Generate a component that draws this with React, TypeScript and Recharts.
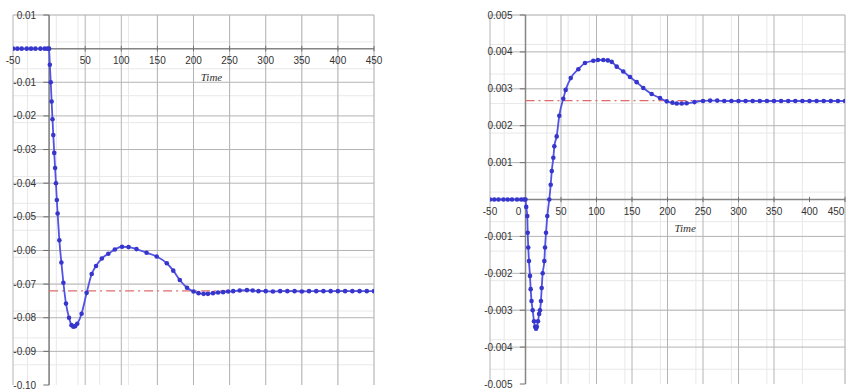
import React from 'react';
import { LineChart, Line, XAxis, YAxis, CartesianGrid, ReferenceLine, ReferenceDot } from 'recharts';

// ---------- data: left panel ----------
const leftTime = [
  -50, -44, -38, -31, -25, -19, -12, -6, -2, 0,
  1, 2.3, 3.5, 4.7, 5.8, 7.1, 8.3, 9.5, 10.7, 11.8,
  14.2, 17, 19.8, 23.4, 27.6, 31, 33.6, 36, 39, 45,
  52, 59, 65, 73, 82, 91, 101, 110, 121, 135,
  149, 163, 172, 181, 191, 200, 207, 214, 220, 227,
  234, 241, 248, 255, 264, 274, 282, 290, 300, 310,
  320, 330, 340, 350, 360, 370, 380, 390, 400, 410,
  420, 430, 440, 450,
];
const leftValue = [
  0, 0, 0, 0, 0, 0, 0, 0, 0, 0,
  -0.0048, -0.010, -0.0157, -0.021, -0.0257, -0.031, -0.0355, -0.040, -0.045, -0.049,
  -0.057, -0.0636, -0.0696, -0.0758, -0.080, -0.0822, -0.0827, -0.0825, -0.0818, -0.0788,
  -0.0726, -0.0670, -0.0646, -0.0624, -0.0610, -0.0597, -0.0589, -0.0590, -0.0596, -0.0607,
  -0.0618, -0.0638, -0.0660, -0.0688, -0.0711, -0.0722, -0.0727, -0.0729, -0.0729, -0.0727,
  -0.0725, -0.0724, -0.0722, -0.0721, -0.0719, -0.0718, -0.0719, -0.0721, -0.0721, -0.0722,
  -0.0721, -0.0721, -0.0721, -0.0722, -0.0721, -0.0721, -0.0721, -0.0721, -0.0721, -0.0721,
  -0.0721, -0.0721, -0.0721, -0.0721,
];
const leftSteady = -0.072;
const leftXTickValues = [-50, 50, 100, 150, 200, 250, 300, 350, 400, 450];
const leftXTickLabels = ['-50', '50', '100', '150', '200', '250', '300', '350', '400', '450'];
const leftYTickValues = [0.01, -0.01, -0.02, -0.03, -0.04, -0.05, -0.06, -0.07, -0.08, -0.09, -0.10];
const leftYTickLabels = ['0.01', '-0.01', '-0.02', '-0.03', '-0.04', '-0.05', '-0.06', '-0.07', '-0.08', '-0.09', '-0.10'];

// ---------- data: right panel ----------
const rightTime = [
  -50, -44, -38, -31, -25, -19, -12, -6, -2, 0,
  1, 2.5, 3.1, 3.9, 4.9, 6.3, 7.3, 8.5, 10.1, 12,
  13.6, 14.8, 16, 17.6, 19.2, 20.4, 21.8, 22.8, 24.2, 26.5,
  27.5, 28.9, 30.7, 33.5, 35.5, 37, 39.2, 40.6, 43.9, 47.6,
  53.2, 56.6, 63.7, 74.4, 83.8, 95.5, 102, 109.6, 116, 121.4,
  128.5, 137.7, 147.2, 156.6, 165.9, 177.7, 189.4, 198.9, 207, 213,
  220, 227, 238, 250, 260, 270, 280, 290, 300, 310,
  320, 330, 340, 350, 360, 370, 380, 390, 400, 410,
  420, 430, 440, 450,
];
const rightValue = [
  0, 0, 0, 0, 0, 0, 0, 0, 0, 0,
  -0.0002, -0.00045, -0.0009, -0.0013, -0.00167, -0.00207, -0.00243, -0.00275, -0.0030, -0.0033,
  -0.00345, -0.0035, -0.00345, -0.0033, -0.0031, -0.0030, -0.00275, -0.0024, -0.0020, -0.00167,
  -0.0013, -0.0009, -0.00045, 0, 0.0004, 0.00077, 0.00113, 0.00144, 0.00171, 0.00227,
  0.00273, 0.00297, 0.00329, 0.00353, 0.0037, 0.00376, 0.00378, 0.00378, 0.00377, 0.00373,
  0.0036, 0.00347, 0.00332, 0.00318, 0.00302, 0.00286, 0.00275, 0.00266, 0.00262, 0.0026,
  0.0026, 0.00261, 0.00264, 0.00267, 0.00268, 0.00268, 0.00267, 0.00267, 0.00267, 0.00267,
  0.00267, 0.00267, 0.00267, 0.00267, 0.00267, 0.00267, 0.00267, 0.00267, 0.00267, 0.00267,
  0.00267, 0.00267, 0.00267, 0.00267,
];
const rightSteady = 0.00268;
const rightXTickValues = [-50, 0, 50, 100, 150, 200, 250, 300, 350, 400, 450];
const rightXTickLabels = ['-50', '0', '50', '100', '150', '200', '250', '300', '350', '400', '450'];
const rightYTickValues = [0.005, 0.004, 0.003, 0.002, 0.001, -0.001, -0.002, -0.003, -0.004, -0.005];
const rightYTickLabels = ['0.005', '0.004', '0.003', '0.002', '0.001', '-0.001', '-0.002', '-0.003', '-0.004', '-0.005'];

const axisTitle = 'Time';
const timeDomain: [number, number] = [-50, 450];

// ---------- helpers ----------
const range = (a: number, b: number, step: number) => {
  const out: number[] = [];
  const n = Math.round((b - a) / step);
  for (let i = 0; i <= n; i++) out.push(+(a + i * step).toFixed(6));
  return out;
};

const LABEL_FONT = 'Liberation Sans, Arial, sans-serif';

type PanelProps = {
  time: number[];
  value: number[];
  steady: number;
  xTicks: number[];
  xLabels: string[];
  yTicks: number[];
  yLabels: string[];
  yDomain: [number, number];
  yMinorStep: number;
  yMajorStep: number;
  tickHalf: number;
  lastLabelShift: number;
  width: number;
  margin: { top: number; right: number; bottom: number; left: number };
};

function Panel(p: PanelProps) {
  const data = p.time.map((t, i) => ({ t, v: p.value[i] }));
  const steadyData = [
    { t: 0, v: p.steady },
    { t: 450, v: p.steady },
  ];
  const minorX = range(-50, 450, 10);
  const majorX = range(-50, 450, 50);
  const minorY = range(p.yDomain[0], p.yDomain[1], p.yMinorStep);
  const majorY = range(p.yDomain[0], p.yDomain[1], p.yMajorStep);
  return (
    <LineChart width={p.width} height={390} data={data} margin={p.margin}>
      <XAxis type="number" dataKey="t" domain={timeDomain} hide allowDataOverflow />
      <YAxis type="number" domain={p.yDomain} hide allowDataOverflow />
      <CartesianGrid stroke="#e8e8e8" strokeWidth={1} verticalValues={minorX} horizontalValues={minorY} />
      <CartesianGrid stroke="#b4b4b4" strokeWidth={1} verticalValues={majorX} horizontalValues={majorY} />
      <ReferenceLine y={0} stroke="#858585" strokeWidth={1.5} />
      <ReferenceLine x={0} stroke="#858585" strokeWidth={1.5} />
      {p.xTicks.filter((v) => v !== 0 && v !== -50).map((v) => (
        <ReferenceLine
          key={'xt' + v}
          segment={[{ x: v, y: -p.tickHalf }, { x: v, y: p.tickHalf }]}
          stroke="#707070"
          strokeWidth={1}
        />
      ))}
      {p.yTicks.map((v) => (
        <ReferenceLine
          key={'yt' + v}
          segment={[{ x: -8, y: v }, { x: 0, y: v }]}
          stroke="#707070"
          strokeWidth={1}
        />
      ))}
      <Line
        data={steadyData}
        dataKey="v"
        type="linear"
        stroke="#e06a6a"
        strokeWidth={1.2}
        strokeDasharray="9 4 2 4"
        dot={false}
        activeDot={false}
        isAnimationActive={false}
      />
      <Line
        dataKey="v"
        type="monotone"
        stroke="#5252e4"
        strokeWidth={1.8}
        dot={{ r: 2.3, fill: '#3636cc', stroke: 'none' }}
        activeDot={false}
        isAnimationActive={false}
      />
      {p.xTicks.map((v, i) => (
        <ReferenceDot
          key={'xl' + v}
          x={v}
          y={0}
          r={0}
          stroke="none"
          fill="none"
          label={{
            value: p.xLabels[i],
            position: 'bottom',
            offset: 8,
            dx: v === 0 ? -7 : i === p.xTicks.length - 1 ? p.lastLabelShift : 0,
            fill: '#333',
            fontSize: 10,
            fontFamily: LABEL_FONT,
          }}
        />
      ))}
      {p.yTicks.map((v, i) => (
        <ReferenceDot
          key={'yl' + v}
          x={0}
          y={v}
          r={0}
          stroke="none"
          fill="none"
          label={{
            value: p.yLabels[i],
            position: 'left',
            offset: 13,
            fill: '#333',
            fontSize: 10,
            fontFamily: LABEL_FONT,
          }}
        />
      ))}
      <ReferenceDot
        x={225}
        y={0}
        r={0}
        stroke="none"
        fill="none"
        label={{
          value: axisTitle,
          position: 'bottom',
          offset: 25,
          fill: '#333',
          fontSize: 11,
          fontStyle: 'italic',
          fontFamily: 'Liberation Serif, Times New Roman, serif',
        }}
      />
    </LineChart>
  );
}

export default function App() {
  return (
    <div style={{ position: 'absolute', left: 0, top: 0, width: 846, height: 390, background: '#fff', overflow: 'hidden' }}>
      <div style={{ position: 'absolute', left: 0, top: 0 }}>
        <Panel
          time={leftTime}
          value={leftValue}
          steady={leftSteady}
          xTicks={leftXTickValues}
          xLabels={leftXTickLabels}
          yTicks={leftYTickValues}
          yLabels={leftYTickLabels}
          yDomain={[-0.1, 0.01]}
          yMinorStep={0.002}
          yMajorStep={0.01}
          tickHalf={0.0008}
          lastLabelShift={0}
          width={390}
          margin={{ top: 15, right: 16, bottom: 5, left: 13 }}
        />
      </div>
      <div style={{ position: 'absolute', left: 440, top: 0 }}>
        <Panel
          time={rightTime}
          value={rightValue}
          steady={rightSteady}
          xTicks={rightXTickValues}
          xLabels={rightXTickLabels}
          yTicks={rightYTickValues}
          yLabels={rightYTickLabels}
          yDomain={[-0.005, 0.005]}
          yMinorStep={0.0002}
          yMajorStep={0.001}
          tickHalf={0.00007}
          lastLabelShift={-9}
          width={406}
          margin={{ top: 15, right: 1, bottom: 6, left: 50 }}
        />
      </div>
    </div>
  );
}
